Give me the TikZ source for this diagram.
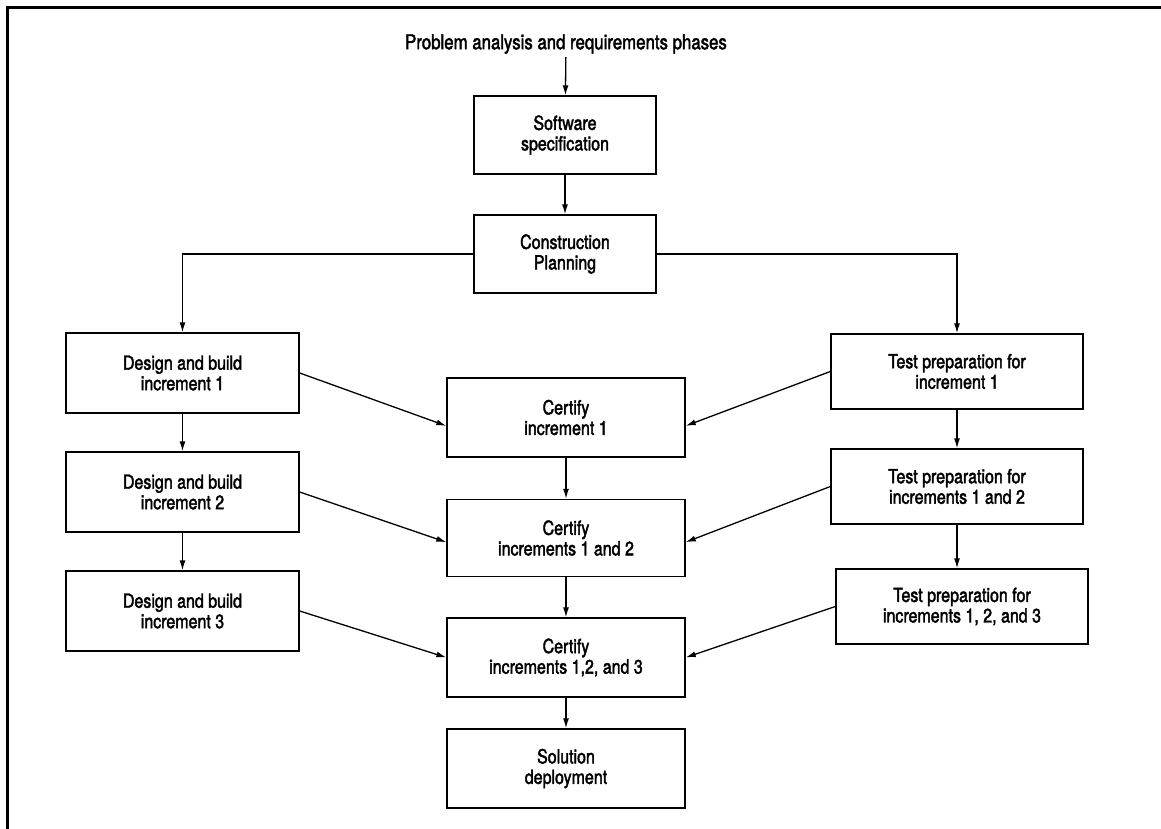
\documentclass[tikz,border=0pt]{standalone}
\usepackage{fontspec}
\setmainfont{TeX Gyre Heros}[FakeStretch=0.82, FakeBold=2]
\usetikzlibrary{arrows.meta}
\tikzset{
  box/.style={draw, line width=1.4pt, align=center, inner sep=0pt, font=\fontsize{19.5}{20.5}\selectfont},
  sidebox/.style={box, minimum width=233pt, minimum height=80pt},
  testbox/.style={box, minimum width=252pt, minimum height=75pt},
  certbox/.style={box, minimum width=238pt, minimum height=79pt},
  topbox/.style={box, minimum width=182pt, minimum height=78pt},
  flow/.style={line width=1.3pt, -{Latex[length=10pt,width=6pt]}}
}
\begin{document}
\begin{tikzpicture}[x=1pt, y=-1pt]
        \useasboundingbox (0,0) rectangle (1161,829);
        % Frame (top and left edge only)
        \draw[line width=3pt] (7,829) -- (7,8) -- (1161,8);

        % Top of the chain
        \node[font=\fontsize{20.5}{22}\selectfont] (phases) at (566,44) {Problem analysis and requirements phases};
        \node[topbox] (spec) at (565,135) {Software\\specification};
        \node[topbox] (plan) at (565,254) {Construction\\Planning};

        % Design and build column
        \foreach \i/\y in {1/373, 2/492, 3/611} {
            \node[sidebox] (design\i) at (182.5,\y) {Design and build\\increment \i};
        }
        % Test preparation column
        \foreach \i/\x/\y/\txt in {1/957/371.5/increment 1, 2/957/486.5/increments 1 and 2, 3/962/606.5/{increments 1, 2, and 3}} {
            \node[testbox] (test\i) at (\x,\y) {Test preparation for\\\txt};
        }
        % Certify column
        \node[certbox] (cert1) at (566,417.5) {Certify\\increment 1};
        \node[certbox, minimum height=77pt] (cert2) at (566,538) {Certify\\increments 1 and 2};
        \node[certbox] (cert3) at (566,657.5) {Certify\\increments 1,2, and 3};
        \node[certbox] (deploy) at (566,768.5) {Solution\\deployment};

        % Vertical flow
        \draw[flow] (phases) -- (spec);
        \draw[flow] (spec) -- (plan);
        \draw[flow] (plan.west) -| (design1.north);
        \draw[flow] (plan.east) -| (test1.north);
        \draw[flow] (design1) -- (design2);
        \draw[flow] (design2) -- (design3);
        \draw[flow] (test1) -- (test2);
        \draw[flow] (test2.south) -- (test2.south |- test3.north);
        \draw[flow] (cert1) -- (cert2);
        \draw[flow] (cert2) -- (cert3);
        \draw[flow] (cert3) -- (deploy);

        % Feeds into certification
        \draw[flow] (design1.east) -- (cert1.184);
        \draw[flow] (test1.west) -- (cert1.-4);
        \draw[flow] (design2.east) -- (cert2.182);
        \draw[flow] (test2.west) -- (cert2.-2);
        \draw[flow] (design3.east) -- (cert3.west);
        \draw[flow] (test3.west) -- (cert3.east);
\end{tikzpicture}
\end{document}
